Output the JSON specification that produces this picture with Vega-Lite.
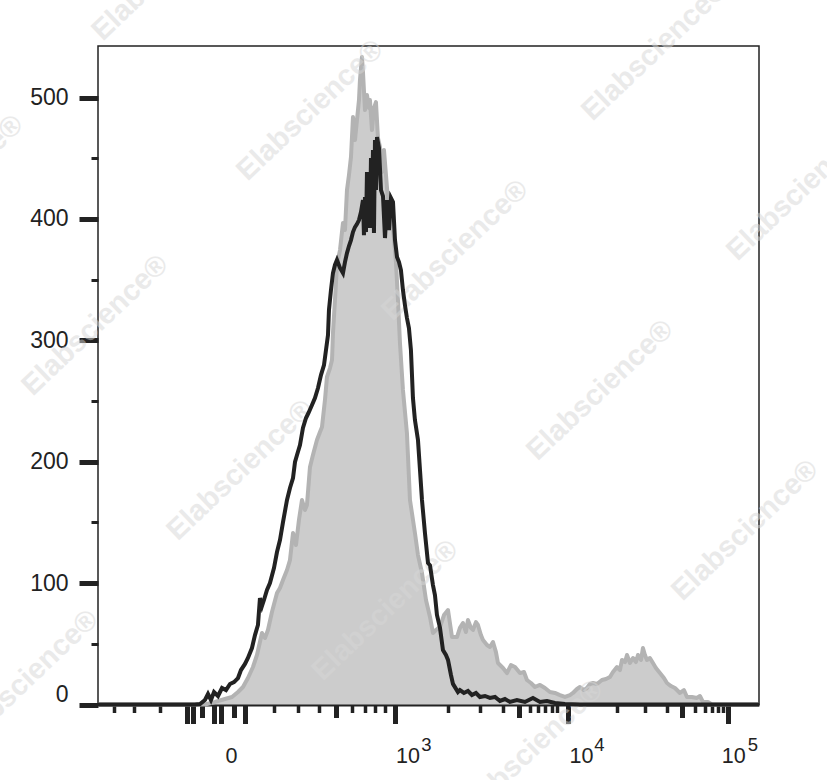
{
  "$schema": "https://vega.github.io/schema/vega-lite/v6.json",
  "width": 661,
  "height": 658.5,
  "autosize": {"type": "none"},
  "padding": {"left": 98, "top": 46, "right": 68, "bottom": 75.5},
  "background": "white",
  "config": {
    "view": {"stroke": "#222222", "strokeWidth": 1.5},
    "font": "Liberation Sans",
    "axis": {"labelFont": "Liberation Sans", "labelColor": "#222222", "grid": false, "title": null, "zindex": 1}
  },
  "datasets": {
    "grey": [
      {"channel": 0, "count": 0}, {"channel": 150, "count": 0}, {"channel": 165.7, "count": 0},
      {"channel": 181.2, "count": 2.1}, {"channel": 196.7, "count": 4.5}, {"channel": 207.6, "count": 6.2},
      {"channel": 216.9, "count": 10.3}, {"channel": 224.6, "count": 14.4}, {"channel": 232.3, "count": 21.8},
      {"channel": 240.1, "count": 30.9}, {"channel": 246.3, "count": 40.8}, {"channel": 254.0, "count": 58.9},
      {"channel": 258.7, "count": 54.8}, {"channel": 263.3, "count": 61.4}, {"channel": 269.5, "count": 76.2},
      {"channel": 277.3, "count": 91.8}, {"channel": 281.9, "count": 96.0}, {"channel": 286.6, "count": 102.6},
      {"channel": 292.8, "count": 110.8}, {"channel": 297.4, "count": 119.0}, {"channel": 302.1, "count": 141.3},
      {"channel": 306.7, "count": 131.4}, {"channel": 311.3, "count": 152.0}, {"channel": 316.0, "count": 168.5},
      {"channel": 320.6, "count": 160.2}, {"channel": 323.7, "count": 164.4}, {"channel": 328.4, "count": 195.7},
      {"channel": 333.0, "count": 205.6}, {"channel": 339.2, "count": 217.9}, {"channel": 343.9, "count": 224.5},
      {"channel": 347.0, "count": 228.6}, {"channel": 351.6, "count": 250.8}, {"channel": 354.7, "count": 269.8},
      {"channel": 359.4, "count": 277.2}, {"channel": 362.5, "count": 283.8}, {"channel": 364.0, "count": 306.0},
      {"channel": 367.1, "count": 333.2}, {"channel": 370.2, "count": 362.1}, {"channel": 374.9, "count": 374.4},
      {"channel": 379.5, "count": 396.7}, {"channel": 382.6, "count": 390.9}, {"channel": 385.7, "count": 423.8},
      {"channel": 388.8, "count": 436.2}, {"channel": 391.9, "count": 451.0}, {"channel": 395.0, "count": 484.0},
      {"channel": 398.1, "count": 465.0}, {"channel": 401.2, "count": 481.5}, {"channel": 404.3, "count": 498.0},
      {"channel": 405.8, "count": 514.4}, {"channel": 408.9, "count": 533.4}, {"channel": 410.5, "count": 521.0},
      {"channel": 413.6, "count": 489.7}, {"channel": 416.7, "count": 502.1}, {"channel": 419.8, "count": 491.4},
      {"channel": 421.3, "count": 498.0}, {"channel": 424.4, "count": 473.2}, {"channel": 427.5, "count": 491.4},
      {"channel": 430.6, "count": 496.3}, {"channel": 433.7, "count": 466.7}, {"channel": 436.8, "count": 459.3},
      {"channel": 439.9, "count": 438.7}, {"channel": 443.0, "count": 456.8}, {"channel": 446.1, "count": 436.2},
      {"channel": 449.2, "count": 415.6}, {"channel": 453.9, "count": 403.2}, {"channel": 457.0, "count": 393.3},
      {"channel": 461.6, "count": 364.5}, {"channel": 464.7, "count": 333.2}, {"channel": 467.8, "count": 297.8},
      {"channel": 472.4, "count": 259.1}, {"channel": 478.6, "count": 223.6}, {"channel": 483.3, "count": 168.5},
      {"channel": 491.0, "count": 141.3}, {"channel": 495.7, "count": 123.1}, {"channel": 501.9, "count": 108.3},
      {"channel": 508.1, "count": 86.1}, {"channel": 514.3, "count": 72.1}, {"channel": 518.9, "count": 58.9},
      {"channel": 523.6, "count": 61.4}, {"channel": 529.8, "count": 63.9}, {"channel": 536.0, "count": 73.7},
      {"channel": 542.2, "count": 77.8}, {"channel": 548.4, "count": 55.6}, {"channel": 556.1, "count": 55.6},
      {"channel": 560.7, "count": 63.1}, {"channel": 565.4, "count": 67.1}, {"channel": 570.0, "count": 59.7},
      {"channel": 573.1, "count": 69.6}, {"channel": 577.8, "count": 63.1}, {"channel": 580.9, "count": 61.4},
      {"channel": 585.5, "count": 67.9}, {"channel": 588.6, "count": 65.5}, {"channel": 593.2, "count": 57.2},
      {"channel": 596.4, "count": 53.1}, {"channel": 602.6, "count": 49.0}, {"channel": 607.2, "count": 47.4},
      {"channel": 611.9, "count": 51.5}, {"channel": 616.5, "count": 43.2}, {"channel": 619.6, "count": 34.2},
      {"channel": 627.4, "count": 30.1}, {"channel": 633.5, "count": 25.9}, {"channel": 639.7, "count": 32.5},
      {"channel": 646.0, "count": 30.9}, {"channel": 653.7, "count": 25.9}, {"channel": 659.9, "count": 26.8},
      {"channel": 664.5, "count": 20.2}, {"channel": 670.7, "count": 17.7}, {"channel": 676.9, "count": 14.4},
      {"channel": 684.7, "count": 16.1}, {"channel": 692.4, "count": 13.6}, {"channel": 700.1, "count": 10.3},
      {"channel": 707.9, "count": 9.5}, {"channel": 715.6, "count": 7.8}, {"channel": 723.4, "count": 6.2},
      {"channel": 731.1, "count": 7.8}, {"channel": 735.8, "count": 9.5}, {"channel": 742.0, "count": 12.8},
      {"channel": 746.6, "count": 14.4}, {"channel": 752.8, "count": 11.9}, {"channel": 757.5, "count": 13.6},
      {"channel": 762.1, "count": 16.9}, {"channel": 766.8, "count": 17.7}, {"channel": 773.0, "count": 16.9},
      {"channel": 780.7, "count": 20.2}, {"channel": 786.9, "count": 21.0}, {"channel": 793.1, "count": 22.7},
      {"channel": 797.8, "count": 26.8}, {"channel": 804.0, "count": 30.9}, {"channel": 808.6, "count": 28.4},
      {"channel": 811.7, "count": 36.7}, {"channel": 816.4, "count": 35.0}, {"channel": 819.5, "count": 40.8},
      {"channel": 824.1, "count": 34.2}, {"channel": 828.8, "count": 38.3}, {"channel": 833.4, "count": 35.0},
      {"channel": 836.5, "count": 40.8}, {"channel": 841.2, "count": 36.7}, {"channel": 844.2, "count": 46.5},
      {"channel": 847.3, "count": 40.8}, {"channel": 850.4, "count": 36.7}, {"channel": 855.0, "count": 38.3},
      {"channel": 859.7, "count": 34.2}, {"channel": 864.3, "count": 30.1}, {"channel": 870.5, "count": 25.9},
      {"channel": 876.7, "count": 21.8}, {"channel": 881.4, "count": 17.7}, {"channel": 887.6, "count": 15.2},
      {"channel": 893.8, "count": 13.6}, {"channel": 901.5, "count": 9.5}, {"channel": 907.7, "count": 11.9},
      {"channel": 912.4, "count": 6.2}, {"channel": 920.1, "count": 6.2}, {"channel": 927.9, "count": 5.4},
      {"channel": 932.5, "count": 7.0}, {"channel": 937.1, "count": 2.1}, {"channel": 944.9, "count": 2.1},
      {"channel": 951.1, "count": 0}, {"channel": 1024, "count": 0}
    ],
    "black": [
      {"channel": 0, "count": 0}, {"channel": 150, "count": 0}, {"channel": 158.0, "count": 0.4},
      {"channel": 165.7, "count": 3.7}, {"channel": 170.4, "count": 8.6}, {"channel": 175.0, "count": 3.7},
      {"channel": 179.7, "count": 10.3}, {"channel": 185.9, "count": 7.0}, {"channel": 192.1, "count": 13.6},
      {"channel": 198.3, "count": 11.9}, {"channel": 204.5, "count": 16.9}, {"channel": 210.7, "count": 18.5},
      {"channel": 216.9, "count": 21.8}, {"channel": 221.5, "count": 28.4}, {"channel": 227.7, "count": 33.4},
      {"channel": 232.3, "count": 38.3}, {"channel": 238.5, "count": 46.5}, {"channel": 243.2, "count": 57.2},
      {"channel": 247.8, "count": 65.5}, {"channel": 250.9, "count": 87.7}, {"channel": 254.0, "count": 81.1},
      {"channel": 257.1, "count": 86.1}, {"channel": 261.8, "count": 94.3}, {"channel": 266.4, "count": 100.1},
      {"channel": 272.6, "count": 112.4}, {"channel": 277.3, "count": 125.6}, {"channel": 281.9, "count": 135.5},
      {"channel": 286.6, "count": 150.3}, {"channel": 292.8, "count": 168.5}, {"channel": 297.4, "count": 178.4},
      {"channel": 302.1, "count": 186.6}, {"channel": 305.2, "count": 199.8}, {"channel": 308.3, "count": 205.5},
      {"channel": 312.9, "count": 213.8}, {"channel": 317.5, "count": 227.8}, {"channel": 322.2, "count": 236.0},
      {"channel": 326.8, "count": 241.0}, {"channel": 331.5, "count": 246.8}, {"channel": 336.1, "count": 252.5},
      {"channel": 340.8, "count": 260.7}, {"channel": 345.4, "count": 271.4}, {"channel": 350.1, "count": 279.7},
      {"channel": 353.2, "count": 292.0}, {"channel": 356.3, "count": 304.4}, {"channel": 357.8, "count": 325.0},
      {"channel": 360.9, "count": 341.4}, {"channel": 364.0, "count": 355.4}, {"channel": 367.1, "count": 362.1},
      {"channel": 370.2, "count": 366.2}, {"channel": 374.9, "count": 359.6}, {"channel": 379.5, "count": 355.4},
      {"channel": 382.6, "count": 364.5}, {"channel": 385.7, "count": 371.9}, {"channel": 388.8, "count": 377.7},
      {"channel": 391.9, "count": 382.6}, {"channel": 395.0, "count": 389.2}, {"channel": 398.1, "count": 393.3},
      {"channel": 401.2, "count": 395.8}, {"channel": 404.3, "count": 399.1}, {"channel": 407.4, "count": 405.7},
      {"channel": 410.5, "count": 415.6}, {"channel": 412.0, "count": 386.7}, {"channel": 413.6, "count": 418.1},
      {"channel": 415.1, "count": 389.2}, {"channel": 416.7, "count": 438.7}, {"channel": 418.2, "count": 399.1},
      {"channel": 419.8, "count": 430.4}, {"channel": 421.3, "count": 392.5}, {"channel": 422.9, "count": 450.2},
      {"channel": 424.4, "count": 411.5}, {"channel": 426.0, "count": 456.8}, {"channel": 427.5, "count": 388.4},
      {"channel": 429.1, "count": 465.0}, {"channel": 430.6, "count": 423.8}, {"channel": 432.2, "count": 467.5},
      {"channel": 435.3, "count": 458.4}, {"channel": 438.4, "count": 423.8}, {"channel": 441.5, "count": 418.9},
      {"channel": 444.6, "count": 384.3}, {"channel": 447.7, "count": 415.6}, {"channel": 450.8, "count": 390.9},
      {"channel": 453.9, "count": 417.2}, {"channel": 457.0, "count": 413.9}, {"channel": 460.1, "count": 382.6},
      {"channel": 463.2, "count": 368.7}, {"channel": 466.3, "count": 364.5}, {"channel": 469.3, "count": 357.9},
      {"channel": 472.4, "count": 341.4}, {"channel": 475.5, "count": 329.1}, {"channel": 478.6, "count": 318.4},
      {"channel": 481.7, "count": 310.1}, {"channel": 484.8, "count": 292.0}, {"channel": 487.9, "count": 252.5},
      {"channel": 491.0, "count": 234.3}, {"channel": 495.7, "count": 217.9}, {"channel": 498.8, "count": 193.2},
      {"channel": 501.9, "count": 168.5}, {"channel": 506.5, "count": 141.3}, {"channel": 511.2, "count": 116.6},
      {"channel": 514.3, "count": 114.7}, {"channel": 518.9, "count": 98.4}, {"channel": 522.0, "count": 90.2},
      {"channel": 525.1, "count": 73.7}, {"channel": 529.8, "count": 63.1}, {"channel": 534.4, "count": 44.9},
      {"channel": 539.0, "count": 40.8}, {"channel": 542.2, "count": 36.7}, {"channel": 546.8, "count": 24.3},
      {"channel": 549.9, "count": 17.0}, {"channel": 557.6, "count": 10.3}, {"channel": 560.7, "count": 11.9},
      {"channel": 566.9, "count": 9.5}, {"channel": 573.1, "count": 11.1}, {"channel": 579.3, "count": 7.8},
      {"channel": 585.5, "count": 9.5}, {"channel": 591.7, "count": 6.2}, {"channel": 599.5, "count": 7.0},
      {"channel": 607.2, "count": 5.4}, {"channel": 615.0, "count": 6.2}, {"channel": 622.7, "count": 2.9},
      {"channel": 630.4, "count": 4.5}, {"channel": 638.2, "count": 2.1}, {"channel": 649.0, "count": 3.7},
      {"channel": 661.4, "count": 2.1}, {"channel": 673.8, "count": 5.4}, {"channel": 684.7, "count": 2.1},
      {"channel": 695.5, "count": 2.9}, {"channel": 707.9, "count": 1.2}, {"channel": 723.4, "count": 0.4},
      {"channel": 746.6, "count": 0}, {"channel": 1024, "count": 0}
    ],
    "watermark": [
      {"channel": 103.8, "count": 605.0, "text": "Elabscience®"},
      {"channel": 328.4, "count": 489.7, "text": "Elabscience®"},
      {"channel": 553.0, "count": 374.4, "text": "Elabscience®"},
      {"channel": 777.6, "count": 259.1, "text": "Elabscience®"},
      {"channel": 1002.2, "count": 143.7, "text": "Elabscience®"},
      {"channel": 862.8, "count": 539.1, "text": "Elabscience®"},
      {"channel": 1087.4, "count": 423.8, "text": "Elabscience®"},
      {"channel": -229.3, "count": 427.9, "text": "Elabscience®"},
      {"channel": -4.6, "count": 312.6, "text": "Elabscience®"},
      {"channel": 220.0, "count": 193.2, "text": "Elabscience®"},
      {"channel": 444.6, "count": 77.8, "text": "Elabscience®"},
      {"channel": 669.2, "count": -37.5, "text": "Elabscience®"},
      {"channel": -113.1, "count": 20.2, "text": "Elabscience®"}
    ],
    "tenLabels": [{"pos": 206}, {"pos": 479.4}, {"pos": 748.2}, {"pos": 984.1}],
    "expLabels": [{"pos": 507.8}, {"pos": 776.1}, {"pos": 1013.8}]
  },
  "layer": [
    {
      "data": {"name": "grey"},
      "mark": {"type": "area", "fill": "#cccccc", "stroke": null},
      "encoding": {
        "x": {
          "field": "channel", "type": "quantitative",
          "scale": {"domain": [0, 1024], "nice": false, "zero": false},
          "axis": {
            "orient": "bottom",
            "values": [24.8, 55.8, 96.0, 138.6, 146.4, 161.1, 179.7, 189.8, 210.4, 228.5, 273.4, 309.8, 341.6, 369.4, 393.4, 413.6, 429.1, 444.6, 460.8, 542.6, 591.7, 627.8, 652.1, 669.2, 682.0, 692.4, 702.8, 710.5, 728.5, 803.5, 847.3, 880.9, 904.2, 924.8, 940.3, 950.7, 960.9, 968.7, 976.4],
            "labels": false,
            "domain": true, "domainColor": "#222222", "domainWidth": 3,
            "ticks": true, "tickColor": "#222222",
            "tickSize": {"condition": [
              {"test": "indexof([138.6,146.4,179.7,189.8,228.5,460.8,728.5,976.4], datum.value) >= 0", "value": 19},
              {"test": "indexof([161.1,210.4,369.4,652.1,904.2], datum.value) >= 0", "value": 13}
            ], "value": 8},
            "tickWidth": {"condition": {"test": "indexof([138.6,146.4,179.7,189.8,228.5,460.8,728.5,976.4,161.1,210.4,369.4,652.1,904.2], datum.value) >= 0", "value": 5}, "value": 3.5}
          }
        },
        "y": {
          "field": "count", "type": "quantitative",
          "scale": {"domain": [0, 542.5], "nice": false},
          "axis": {
            "values": [0, 25, 50, 75, 100, 125, 150, 175, 200, 225, 250, 275, 300, 325, 350, 375, 400, 425, 450, 475, 500, 525],
            "labelExpr": "datum.value % 100 == 0 ? datum.label : ''",
            "domain": false,
            "tickColor": "#222222",
            "tickSize": {"condition": {"test": "datum.value % 100 == 0", "value": 19}, "value": 7},
            "tickWidth": {"condition": {"test": "datum.value % 100 == 0", "value": 5}, "value": 3},
            "labelFontSize": 23,
            "labelPadding": 11,
            "labelOffset": {"condition": {"test": "datum.value == 0", "value": -10}, "value": 0}
          }
        }
      }
    },
    {
      "data": {"name": "grey"},
      "mark": {"type": "line", "color": "#b3b3b3", "strokeWidth": 4, "strokeJoin": "round"},
      "encoding": {
        "x": {"field": "channel", "type": "quantitative", "scale": {"domain": [0, 1024], "nice": false, "zero": false}, "axis": null},
        "y": {"field": "count", "type": "quantitative"}
      }
    },
    {
      "data": {"name": "watermark"},
      "mark": {"type": "text", "angle": 316.5, "fontSize": 29, "fontWeight": "bold", "font": "Liberation Sans", "color": "#d6d6d6", "opacity": 0.5, "align": "center", "baseline": "middle", "clip": false},
      "encoding": {
        "x": {"field": "channel", "type": "quantitative", "scale": {"domain": [0, 1024], "nice": false, "zero": false}, "axis": null},
        "y": {"field": "count", "type": "quantitative"},
        "text": {"field": "text"}
      }
    },
    {
      "data": {"name": "black"},
      "mark": {"type": "line", "color": "#222222", "strokeWidth": 4, "strokeJoin": "miter"},
      "encoding": {
        "x": {"field": "channel", "type": "quantitative", "scale": {"domain": [0, 1024], "nice": false, "zero": false}, "axis": null},
        "y": {"field": "count", "type": "quantitative"}
      }
    },
    {
      "data": {"name": "tenLabels"},
      "mark": {"type": "point", "opacity": 0},
      "encoding": {
        "x": {
          "field": "pos", "type": "quantitative",
          "scale": {"domain": [0, 1024], "nice": false, "zero": false},
          "axis": {
            "orient": "bottom",
            "values": [206, 479.4, 748.2, 984.1],
            "labelExpr": "datum.value < 300 ? '0' : '10'",
            "ticks": false, "tickSize": 0, "domain": false,
            "labelFontSize": 21.5, "labelPadding": 40.5, "labelFlush": false, "labelOverlap": false, "labelBound": false,
            "labelAlign": "center", "labelBaseline": "top"
          }
        }
      }
    },
    {
      "data": {"name": "expLabels"},
      "mark": {"type": "point", "opacity": 0},
      "encoding": {
        "x": {
          "field": "pos", "type": "quantitative",
          "scale": {"domain": [0, 1024], "nice": false, "zero": false},
          "axis": {
            "orient": "bottom",
            "values": [507.8, 776.1, 1013.8],
            "labelExpr": "datum.value < 600 ? '3' : datum.value < 900 ? '4' : '5'",
            "ticks": false, "tickSize": 0, "domain": false,
            "labelFontSize": 18.5, "labelPadding": 30.8, "labelFlush": false, "labelOverlap": false, "labelBound": false,
            "labelAlign": "center", "labelBaseline": "top"
          }
        }
      }
    }
  ],
  "resolve": {"scale": {"x": "independent"}}
}
